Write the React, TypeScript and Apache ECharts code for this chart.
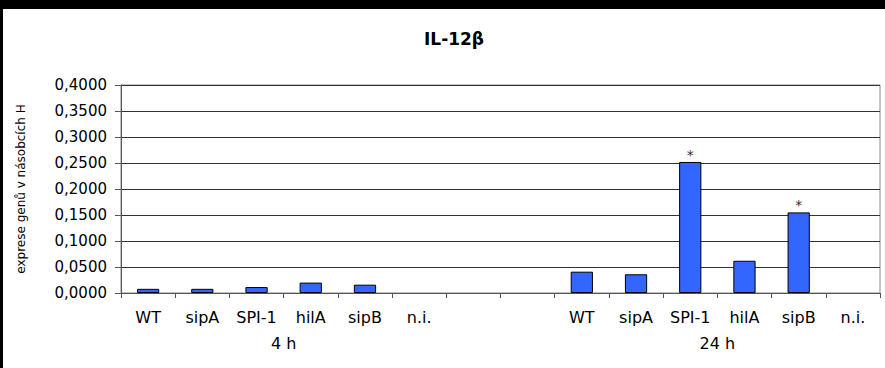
import React, { useEffect, useRef } from "react";
import * as echarts from "echarts";

const title = "IL-12β";
const yAxisTitle = "exprese genů v násobcích H";
const timepoints = ["4 h", "24 h"];
const strains = ["WT", "sipA", "SPI-1", "hilA", "sipB", "n.i."];
const values4h: (number | null)[] = [0.008, 0.008, 0.0115, 0.02, 0.016, null];
const values24h: (number | null)[] = [0.041, 0.036, 0.252, 0.062, 0.155, null];
const significant4h = [false, false, false, false, false, false];
const significant24h = [false, false, true, false, true, false];
const gapSlots = 2;
const yTicks = [0, 0.05, 0.1, 0.15, 0.2, 0.25, 0.3, 0.35, 0.4];

export default function App() {
  const ref = useRef<HTMLDivElement>(null);
  useEffect(() => {
    if (!ref.current) return;
    const chart = echarts.init(ref.current, undefined, { renderer: "svg" });
    const font = "DejaVu Sans, Liberation Sans, Arial, sans-serif";
    const gap = Array.from({ length: gapSlots }, () => "");
    const categories = [...strains, ...gap, ...strains];
    const mk = (vals: (number | null)[], sig: boolean[]) =>
      vals.map((v, i) => ({
        value: v,
        label: {
          show: sig[i],
          formatter: "*",
          position: "top",
          distance: 0,
          fontSize: 14,
          color: "#333",
          fontFamily: font,
        },
      }));
    const data = [
      ...mk(values4h, significant4h),
      ...gap.map(() => ({ value: null, label: { show: false } })),
      ...mk(values24h, significant24h),
    ];
    const groupStarts = [0, strains.length + gapSlots];
    const groupAxis = Array.from({ length: categories.length + 1 }, () => "");
    timepoints.forEach((t, g) => {
      groupAxis[groupStarts[g] + strains.length / 2] = t;
    });
    const yMax = yTicks[yTicks.length - 1];
    const yStep = yTicks[1] - yTicks[0];
    chart.setOption({
      animation: false,
      backgroundColor: "#fff",
      title: {
        text: title,
        left: 446,
        top: 16,
        textAlign: "center",
        textStyle: { fontFamily: font, fontSize: 17, fontWeight: "bold", color: "#000" },
      },
      grid: {
        left: 118,
        top: 76,
        right: 5,
        bottom: 75,
        show: true,
        borderColor: "#888",
        borderWidth: 1,
      },
      xAxis: [
        {
          type: "category",
          data: categories,
          boundaryGap: true,
          axisLine: { lineStyle: { color: "#555", width: 1 } },
          axisTick: { show: true, length: 5, interval: 0, lineStyle: { color: "#555" } },
          axisLabel: { interval: 0, margin: 16, fontSize: 16, color: "#000", fontFamily: font },
          splitLine: { show: false },
        },
        {
          type: "category",
          data: groupAxis,
          position: "bottom",
          offset: 0,
          boundaryGap: false,
          axisLine: { show: false },
          axisTick: { show: false },
          axisLabel: { interval: 0, margin: 42, fontSize: 16, color: "#000", fontFamily: font },
          splitLine: { show: false },
        },
      ],
      yAxis: {
        type: "value",
        min: 0,
        max: yMax,
        interval: yStep,
        name: yAxisTitle,
        nameLocation: "middle",
        nameRotate: 90,
        nameGap: 94,
        nameTextStyle: { fontFamily: font, fontSize: 12, color: "#000" },
        axisLine: { show: true, lineStyle: { color: "#555", width: 1 } },
        axisTick: { show: true, length: 6, lineStyle: { color: "#555" } },
        axisLabel: {
          margin: 14,
          fontSize: 15,
          color: "#000",
          fontFamily: font,
          formatter: (v: number) => v.toFixed(4).replace(".", ","),
        },
        splitLine: { show: true, lineStyle: { color: "#333", width: 1 } },
      },
      series: [
        {
          type: "bar",
          xAxisIndex: 0,
          data,
          barWidth: "41%",
          itemStyle: { color: "#3366FF", borderColor: "#000", borderWidth: 1 },
        },
      ],
    });
    return () => chart.dispose();
  }, []);
  return (
    <div style={{ position: "fixed", left: 0, top: 0, width: 885, height: 368, background: "#000" }}>
      <div
        ref={ref}
        style={{ position: "absolute", left: 3, top: 9, width: 882, height: 359, background: "#fff" }}
      />
    </div>
  );
}
